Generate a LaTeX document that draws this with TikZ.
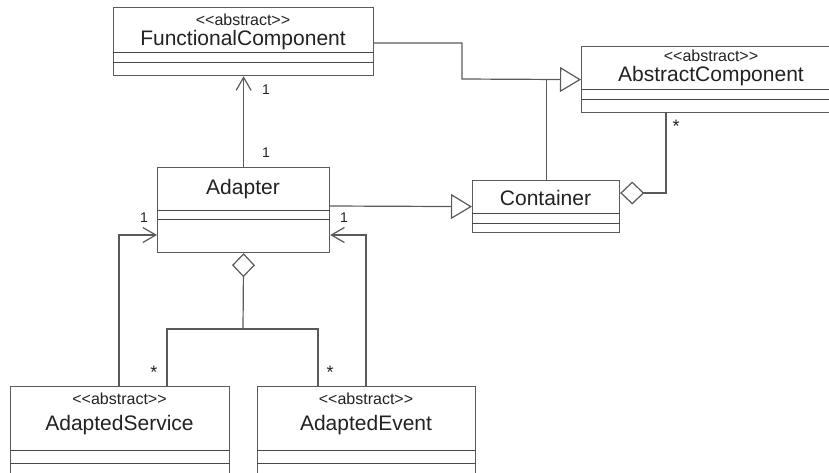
\documentclass[tikz,border=0pt]{standalone}
\usepackage{fontspec}
\setmainfont{Liberation Sans}
\usetikzlibrary{arrows.meta,calc}
\definecolor{ln}{HTML}{5A5A5A}
\definecolor{sp}{HTML}{484848}
\definecolor{tx}{HTML}{222222}
\begin{document}
\begin{tikzpicture}[x=1pt,y=-1pt,
  cls/.style={draw=ln, line width=1.2pt, rectangle, inner sep=0pt, anchor=north west, fill=white},
  sep/.style={draw=sp, line width=1pt},
  st/.style={font=\fontsize{16}{16}\selectfont, text=tx, inner sep=0pt, anchor=base},
  nm/.style={font=\fontsize{21}{21}\selectfont, text=tx, inner sep=0pt, anchor=base},
  mult/.style={font=\fontsize{14}{14}\selectfont, text=tx, inner sep=0pt},
  star/.style={font=\fontsize{18}{18}\selectfont, text=tx, inner sep=0pt},
  con/.style={draw=ln, line width=1.2pt},
  nav/.style={con, -{Straight Barb[length=13pt,width=15pt]}},
  gen/.style={con, -{Triangle[open,length=21pt,width=25pt,fill=white]}},
  agg/.style={con, {Diamond[open,length=24pt,width=23pt,fill=white]}-}
]
\useasboundingbox (0,0) rectangle (829,472);

% classes
\node[cls, minimum width=260pt, minimum height=68pt] (fc) at (113,7) {};
\draw[sep] ([yshift=-45pt]fc.north west) -- ([yshift=-45pt]fc.north east);
\draw[sep] ([yshift=-55pt]fc.north west) -- ([yshift=-55pt]fc.north east);
\node[st] (fcst) at (243,25) {<\kern0pt<abstract>\kern0pt>};
\node[nm] (fcnm) at (243,45) {FunctionalComponent};

\node[cls, minimum width=260pt, minimum height=66pt] (ac) at (581,46) {};
\draw[sep] ([yshift=-43pt]ac.north west) -- ([yshift=-43pt]ac.north east);
\draw[sep] ([yshift=-53pt]ac.north west) -- ([yshift=-53pt]ac.north east);
\node[st] (acst) at (711,61) {<\kern0pt<abstract>\kern0pt>};
\node[nm] (acnm) at (711,81) {AbstractComponent};

\node[cls, minimum width=147pt, minimum height=52pt] (ctr) at (472,180) {};
\draw[sep] ([yshift=-33pt]ctr.north west) -- ([yshift=-33pt]ctr.north east);
\draw[sep] ([yshift=-43pt]ctr.north west) -- ([yshift=-43pt]ctr.north east);
\node[nm] (ctrnm) at (545.5,205) {Container};

\node[cls, minimum width=172pt, minimum height=85pt] (ad) at (157,167) {};
\draw[sep] ([yshift=-43pt]ad.north west) -- ([yshift=-43pt]ad.north east);
\draw[sep] ([yshift=-52pt]ad.north west) -- ([yshift=-52pt]ad.north east);
\node[nm] (adnm) at (243,194) {Adapter};

\node[cls, minimum width=219pt, minimum height=100pt] (as) at (10,386) {};
\draw[sep] ([yshift=-64pt]as.north west) -- ([yshift=-64pt]as.north east);
\draw[sep] ([yshift=-77pt]as.north west) -- ([yshift=-77pt]as.north east);
\node[st] (asst) at (119.5,404) {<\kern0pt<abstract>\kern0pt>};
\node[nm] (asnm) at (119.5,430) {AdaptedService};

\node[cls, minimum width=218pt, minimum height=100pt] (ae) at (257,386) {};
\draw[sep] ([yshift=-64pt]ae.north west) -- ([yshift=-64pt]ae.north east);
\draw[sep] ([yshift=-77pt]ae.north west) -- ([yshift=-77pt]ae.north east);
\node[st] (aest) at (366,404) {<\kern0pt<abstract>\kern0pt>};
\node[nm] (aenm) at (366,430) {AdaptedEvent};

% junction points
\coordinate (gj) at (462,79);
\coordinate (aj) at (243,329);

% connectors
\draw[nav] (ad.north) -- (fc.south);
\draw[gen] ([yshift=-36pt]fc.north east) -| (gj) -- (ac.west);
\draw[con] (ctr.north) -- (ctr.north |- gj);
\draw[gen] ([yshift=-39pt]ad.north east) -- (ctr.west);
\draw[agg] ([yshift=-13pt]ctr.north east) -| ([xshift=85pt]ac.south west);
\draw[agg] (ad.south) -- (aj);
\draw[con] ([xshift=157pt]as.north west) |- (aj) -| ([xshift=61pt]ae.north west);
\draw[nav] ([xshift=109pt]as.north west) |- ([yshift=-68pt]ad.north west);
\draw[nav] ([xshift=109pt]ae.north west) |- ([yshift=-68pt]ad.north east);

% multiplicities
\node[mult] (m1) at (266,90) {1};
\node[mult] (m2) at (266,153) {1};
\node[mult] (m3) at (144,218) {1};
\node[mult] (m4) at (344,218) {1};
\node[star] (m5) at (676,126) {*};
\node[star] (m6) at (154,372) {*};
\node[star] (m7) at (330,372) {*};
\end{tikzpicture}
\end{document}
